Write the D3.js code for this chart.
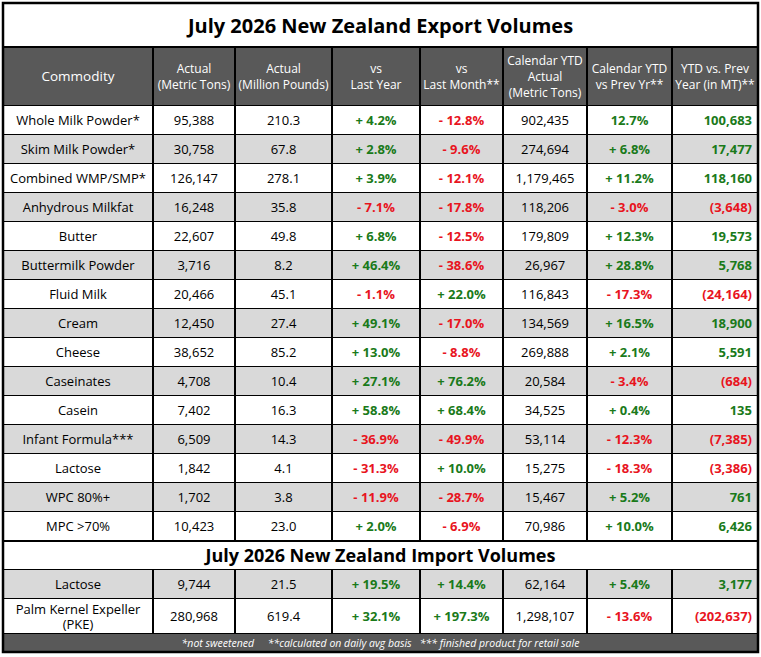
<!DOCTYPE html>
<html><head><meta charset="utf-8">
<script src="https://cdn.jsdelivr.net/npm/d3@7"></script>
<style>body{margin:0;background:#fff}text{font-family:"Liberation Sans Narrow","Open Sans",sans-serif}</style>
</head><body>
<script>
const exportTitle = "July 2026 New Zealand Export Volumes";
const importTitle = "July 2026 New Zealand Import Volumes";
const headers = [["Commodity"],["Actual","(Metric Tons)"],["Actual","(Million Pounds)"],["vs","Last Year"],["vs","Last Month**"],["Calendar YTD","Actual","(Metric Tons)"],["Calendar YTD","vs Prev Yr**"],["YTD vs. Prev","Year (in MT)**"]];
const exportRows = [
 ["Whole Milk Powder*","95,388","210.3","+ 4.2%","- 12.8%","902,435","12.7%","100,683"],
 ["Skim Milk Powder*","30,758","67.8","+ 2.8%","- 9.6%","274,694","+ 6.8%","17,477"],
 ["Combined WMP/SMP*","126,147","278.1","+ 3.9%","- 12.1%","1,179,465","+ 11.2%","118,160"],
 ["Anhydrous Milkfat","16,248","35.8","- 7.1%","- 17.8%","118,206","- 3.0%","(3,648)"],
 ["Butter","22,607","49.8","+ 6.8%","- 12.5%","179,809","+ 12.3%","19,573"],
 ["Buttermilk Powder","3,716","8.2","+ 46.4%","- 38.6%","26,967","+ 28.8%","5,768"],
 ["Fluid Milk","20,466","45.1","- 1.1%","+ 22.0%","116,843","- 17.3%","(24,164)"],
 ["Cream","12,450","27.4","+ 49.1%","- 17.0%","134,569","+ 16.5%","18,900"],
 ["Cheese","38,652","85.2","+ 13.0%","- 8.8%","269,888","+ 2.1%","5,591"],
 ["Caseinates","4,708","10.4","+ 27.1%","+ 76.2%","20,584","- 3.4%","(684)"],
 ["Casein","7,402","16.3","+ 58.8%","+ 68.4%","34,525","+ 0.4%","135"],
 ["Infant Formula***","6,509","14.3","- 36.9%","- 49.9%","53,114","- 12.3%","(7,385)"],
 ["Lactose","1,842","4.1","- 31.3%","+ 10.0%","15,275","- 18.3%","(3,386)"],
 ["WPC 80%+","1,702","3.8","- 11.9%","- 28.7%","15,467","+ 5.2%","761"],
 ["MPC >70%","10,423","23.0","+ 2.0%","- 6.9%","70,986","+ 10.0%","6,426"]
];
const importRows = [
 [["Lactose"],"9,744","21.5","+ 19.5%","+ 14.4%","62,164","+ 5.4%","3,177"],
 [["Palm Kernel Expeller","(PKE)"],"280,968","619.4","+ 32.1%","+ 197.3%","1,298,107","- 13.6%","(202,637)"]
];
const footnote = "*not sweetened     **calculated on daily avg basis   *** finished product for retail sale";

const colEdges = [3,153,235,332,420,503,587,672,758];
const W = 761, H = 657;
const green = "#1a7a1a", red = "#e8141e";
const svg = d3.select("body").append("svg").attr("width", W).attr("height", H);

const y = d3.scaleBand().domain(d3.range(exportRows.length)).range([106, 541]);
const yi = d3.scaleOrdinal().domain([0,1]).range([[570,599],[599,634]]);

function color(ci, v){
  if (ci < 3 || ci === 5) return "#000";
  return (v.startsWith("-") || v.startsWith("(")) ? red : green;
}
function cellText(ci, v, y0, y1, bold){
  const lines = Array.isArray(v) ? v : [v];
  const right = ci === 7;
  const x = right ? colEdges[ci+1]-6 : (colEdges[ci]+colEdges[ci+1])/2;
  const t = svg.append("text").attr("x", x).attr("text-anchor", right ? "end" : "middle")
    .attr("font-size", 13).attr("font-weight", bold ? "bold" : "normal").attr("fill", color(ci, lines[0]));
  const mid = (y0+y1)/2, lh = 15;
  lines.forEach((l,i)=> t.append("tspan").attr("x", x).attr("y", mid + (i-(lines.length-1)/2)*lh + 4.5).text(l));
}
function row(r, y0, y1, shade){
  svg.append("rect").attr("x",3).attr("y",y0).attr("width",755).attr("height",y1-y0).attr("fill", shade ? "#d9d9d9" : "#fff");
  r.forEach((v,ci)=> cellText(ci, v, y0, y1, ci >= 3 && ci !== 5));
  colEdges.slice(1,-1).forEach(x=> svg.append("line").attr("x1",x).attr("x2",x).attr("y1",y0).attr("y2",y1).attr("stroke","#000").attr("stroke-width",2));
  svg.append("line").attr("x1",3).attr("x2",758).attr("y1",y1).attr("y2",y1).attr("stroke","#000").attr("stroke-width",2);
}

// title
svg.append("text").attr("x", W/2).attr("y", 33).attr("text-anchor","middle").attr("font-size",20).attr("font-weight","bold").text(exportTitle);
// header
svg.append("rect").attr("x",3).attr("y",47).attr("width",755).attr("height",59).attr("fill","#595959");
headers.forEach((h,ci)=>{
  const x = (colEdges[ci]+colEdges[ci+1])/2;
  const t = svg.append("text").attr("text-anchor","middle").attr("font-size", ci===0?13.5:12).attr("fill","#fff");
  h.forEach((l,i)=> t.append("tspan").attr("x",x).attr("y", 76.5 + (i-(h.length-1)/2)*16 + 4.5).text(l));
});
colEdges.slice(1,-1).forEach(x=> svg.append("line").attr("x1",x).attr("x2",x).attr("y1",47).attr("y2",106).attr("stroke","#000").attr("stroke-width",2));
svg.append("line").attr("x1",3).attr("x2",758).attr("y1",47).attr("y2",47).attr("stroke","#000").attr("stroke-width",2);
svg.append("line").attr("x1",3).attr("x2",758).attr("y1",106).attr("y2",106).attr("stroke","#000").attr("stroke-width",2);

exportRows.forEach((r,i)=> row(r, y(i), y(i)+y.bandwidth(), i%2===1));

svg.append("text").attr("x", W/2).attr("y", 562).attr("text-anchor","middle").attr("font-size",18).attr("font-weight","bold").text(importTitle);
svg.append("line").attr("x1",3).attr("x2",758).attr("y1",570).attr("y2",570).attr("stroke","#000").attr("stroke-width",2);
importRows.forEach((r,i)=> { const [a,b] = yi(i); row(r, a, b, i===0); });

svg.append("rect").attr("x",3).attr("y",634).attr("width",755).attr("height",18).attr("fill","#595959");
svg.append("text").attr("x", W/2).attr("y", 647).attr("text-anchor","middle").attr("font-size",10.5).attr("font-style","italic").attr("fill","#fff").attr("xml:space","preserve").text(footnote);

svg.append("rect").attr("x",3).attr("y",3).attr("width",755).attr("height",649).attr("fill","none").attr("stroke","#000").attr("stroke-width",2.5);
</script>
</body></html>
